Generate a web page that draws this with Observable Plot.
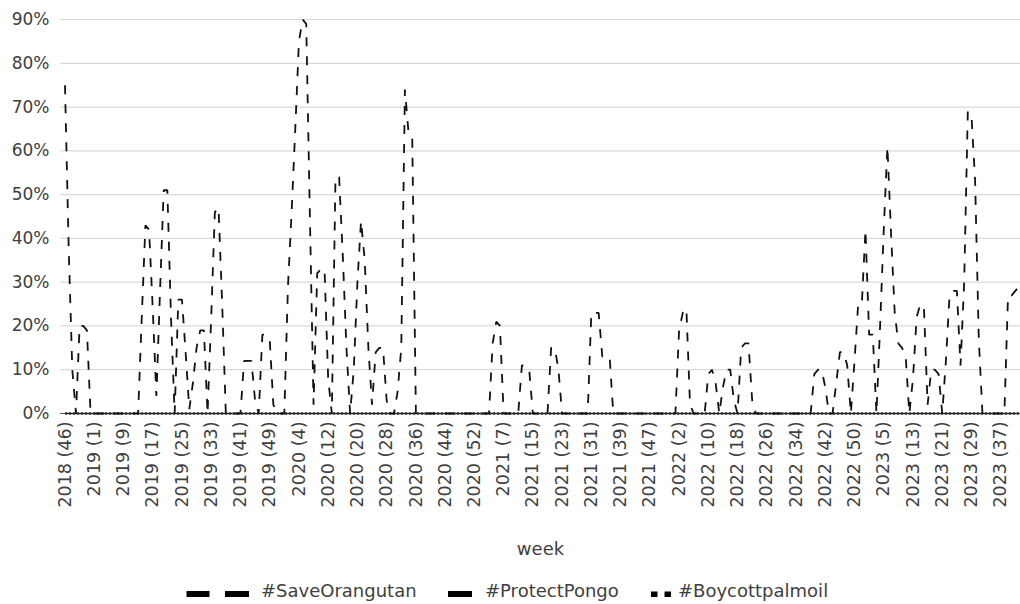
<!DOCTYPE html>
<html>
<head>
<meta charset="utf-8">
<script src="https://cdn.jsdelivr.net/npm/d3@7"></script>
<script src="https://cdn.jsdelivr.net/npm/@observablehq/plot@0.6"></script>
<style>
  body { margin: 0; background: #fff; font-family: "DejaVu Sans", sans-serif; }
  #wrap { position: relative; width: 1020px; height: 604px; overflow: hidden; }
  #chart { position: absolute; left: 0; top: 0; }
  .leg { position: absolute; top: 581px; font-size: 18px; line-height: 20px; color: #404040; white-space: nowrap; }
  .sym { position: absolute; top: 590px; }
</style>
</head>
<body>
<div id="wrap">
  <div id="chart"></div>
  <svg class="sym" style="left:186px" width="64" height="8"><rect x="0.5" y="1" width="23" height="6" fill="#000"/><rect x="39" y="1" width="24" height="6" fill="#000"/></svg>
  <div class="leg" style="left:261px">#SaveOrangutan</div>
  <svg class="sym" style="left:448px" width="26" height="8"><rect x="0" y="1" width="24" height="6" fill="#000"/></svg>
  <div class="leg" style="left:485px">#ProtectPongo</div>
  <svg class="sym" style="left:651px" width="24" height="8"><rect x="0" y="1.5" width="6.5" height="5.5" fill="#000"/><rect x="13.5" y="1.5" width="6.5" height="5.5" fill="#000"/></svg>
  <div class="leg" style="left:678px">#Boycottpalmoil</div>
</div>
<script>
// ---- data ----
const seriesNames = ["#SaveOrangutan", "#ProtectPongo", "#Boycottpalmoil"];
const startYear = 2018;
const startWeek = 46;
const weeksPerYear = 53;

const tickLabels = [
  "2018 (46)", "2019 (1)", "2019 (9)", "2019 (17)", "2019 (25)", "2019 (33)", "2019 (41)", "2019 (49)",
  "2020 (4)", "2020 (12)", "2020 (20)", "2020 (28)", "2020 (36)", "2020 (44)", "2020 (52)",
  "2021 (7)", "2021 (15)", "2021 (23)", "2021 (31)", "2021 (39)", "2021 (47)",
  "2022 (2)", "2022 (10)", "2022 (18)", "2022 (26)", "2022 (34)", "2022 (42)", "2022 (50)",
  "2023 (5)", "2023 (13)", "2023 (21)", "2023 (29)", "2023 (37)"
];

const yTicks = [0, 10, 20, 30, 40, 50, 60, 70, 80, 90];

// weekly share (%) — #SaveOrangutan
const saveOrangutan = [
  75, 38, 10, 0, 20, 20, 19, 0,
  0, 0, 0, 0, 0, 0, 0, 0,
  0, 0, 0, 0, 0, 22, 43, 42,
  24, 4, 28, 51, 51, 22, 0, 26,
  26, 14, 1, 7, 15, 19, 19, 0,
  22, 46, 47, 25, 0, 0, 0, 0,
  0, 12, 12, 12, 3, 0, 18, 18,
  17, 2, 0, 0, 0, 29, 46, 65,
  85, 90, 89, 45, 2, 32, 33, 33,
  8, 0, 54, 54, 36, 15, 0, 10,
  30, 44, 35, 15, 2, 14, 15, 15,
  3, 0, 0, 5, 15, 74, 64, 63,
  0, 0, 0, 0, 0, 0, 0, 0,
  0, 0, 0, 0, 0, 0, 0, 0,
  0, 0, 0, 0, 0, 16, 21, 20,
  0, 0, 0, 0, 0, 11, 11, 10,
  0, 0, 0, 0, 0, 15, 15, 10,
  0, 0, 0, 0, 0, 0, 0, 0,
  23, 23, 23, 13, 13, 13, 0, 0,
  0, 0, 0, 0, 0, 0, 0, 0,
  0, 0, 0, 0, 0, 0, 0, 0,
  19, 23, 24, 2, 0, 0, 0, 0,
  9, 10, 7, 0, 6, 10, 10, 3,
  0, 15, 16, 16, 3, 0, 0, 0,
  0, 0, 0, 0, 0, 0, 0, 0,
  0, 0, 0, 0, 0, 9, 10, 10,
  6, 0, 0, 7, 14, 14, 11, 0,
  12, 25, 25, 42, 18, 18, 0, 20,
  42, 61, 41, 23, 16, 15, 13, 0,
  8, 22, 25, 24, 2, 10, 10, 9,
  0, 12, 27, 28, 28, 11, 30, 69,
  68, 53, 17, 0, 0, 0, 0, 0,
  0, 0, 27, 27, 28, 29
];

// #ProtectPongo
const protectPongo = [
  0,0,0,0,0,0,0,0, 0,0,0,0,0,0,0,0, 0,0,0,0,0,0,0,0, 0,0,0,0,0,0,0,0,
  0,0,0,0,0,0,0,0, 0,0,0,0,0,0,0,0, 0,0,0,0,0,0,0,0, 0,0,0,0,0,0,0,0,
  0,0,0,0,0,0,0,0, 0,0,0,0,0,0,0,0, 0,0,0,0,0,0,0,0, 0,0,0,0,0,0,0,0,
  0,0,0,0,0,0,0,0, 0,0,0,0,0,0,0,0, 0,0,0,0,0,0,0,0, 0,0,0,0,0,0,0,0,
  0,0,0,0,0,0,0,0, 0,0,0,0,0,0,0,0, 0,0,0,0,0,0,0,0, 0,0,0,0,0,0,0,0,
  0,0,0,0,0,0,0,0, 0,0,0,0,0,0,0,0, 0,0,0,0,0,0,0,0, 0,0,0,0,0,0,0,0,
  0,0,0,0,0,0,0,0, 0,0,0,0,0,0,0,0, 0,0,0,0,0,0,0,0, 0,0,0,0,0,0,0,0,
  0,0,0,0,0,0,0,0, 0,0,0,0,0,0,0,0, 0,0,0,0,0,0,0,0, 0,0,0,0,0,0,0,0,
  0,0,0,0,0,0
];

// #Boycottpalmoil
const boycottPalmoil = [
  0,0,0,0,0,0,0,0, 0,0,0,0,0,0,0,0, 0,0,0,0,0,0,0,0, 0,0,0,0,0,0,0,0,
  0,0,0,0,0,0,0,0, 0,0,0,0,0,0,0,0, 0,0,0,0,0,0,0,0, 0,0,0,0,0,0,0,0,
  0,0,0,0,0,0,0,0, 0,0,0,0,0,0,0,0, 0,0,0,0,0,0,0,0, 0,0,0,0,0,0,0,0,
  0,0,0,0,0,0,0,0, 0,0,0,0,0,0,0,0, 0,0,0,0,0,0,0,0, 0,0,0,0,0,0,0,0,
  0,0,0,0,0,0,0,0, 0,0,0,0,0,0,0,0, 0,0,0,0,0,0,0,0, 0,0,0,0,0,0,0,0,
  0,0,0,0,0,0,0,0, 0,0,0,0,0,0,0,0, 0,0,0,0,0,0,0,0, 0,0,0,0,0,0,0,0,
  0,0,0,0,0,0,0,0, 0,0,0,0,0,0,0,0, 0,0,0,0,0,0,0,0, 0,0,0,0,0,0,0,0,
  0,0,0,0,0,0,0,0, 0,0,0,0,0,0,0,0, 0,0,0,0,0,0,0,0, 0,0,0,0,0,0,0,0,
  0,0,0,0,0,0
];

// ---- category axis: consecutive "year (week)" labels ----
const weeks = [];
{
  let y = startYear, w = startWeek;
  while (weeks.length < saveOrangutan.length) {
    weeks.push(`${y} (${w})`);
    w++;
    if (w > weeksPerYear) { w = 1; y++; }
  }
}

const toRows = (vals) => vals.map((v, i) => ({week: weeks[i], value: v}));

const chart = Plot.plot({
  width: 1020,
  height: 560,
  marginLeft: 60,
  marginRight: 0,
  marginTop: 19,
  marginBottom: 147,
  style: {fontFamily: "DejaVu Sans", fontSize: "17px", color: "#404040", background: "#fff"},
  x: {type: "point", domain: weeks, range: [64.5, 1018.5], padding: 0},
  y: {domain: [0, 90], range: [413, 19]},
  marks: [
    Plot.gridY(yTicks, {stroke: "#d9d9d9", strokeOpacity: 1, strokeWidth: 1.2}),
    Plot.ruleY([0], {stroke: "#595959", strokeWidth: 1}),
    Plot.axisY({ticks: yTicks, tickFormat: d => d + "%", tickSize: 0, tickPadding: 11, fontSize: 17, label: null}),
    Plot.axisX({ticks: tickLabels, tickSize: 0, tickPadding: 8, tickRotate: -90, fontSize: 17.5, label: null}),
    Plot.text(["week"], {frameAnchor: "bottom", dy: 141, fontSize: 18, fill: "#404040"}),
    Plot.line(toRows(boycottPalmoil), {x: "week", y: "value", stroke: "#000", strokeWidth: 2, strokeDasharray: "2,2", strokeLinecap: "butt"}),
    Plot.line(toRows(protectPongo), {x: "week", y: "value", stroke: "#222", strokeWidth: 1.5, strokeLinecap: "butt"}),
    Plot.line(toRows(saveOrangutan), {x: "week", y: "value", stroke: "#111", strokeWidth: 1.8, strokeDasharray: "9,10", strokeLinecap: "butt", strokeLinejoin: "miter"})
  ]
});
document.getElementById("chart").appendChild(chart);
</script>
</body>
</html>
